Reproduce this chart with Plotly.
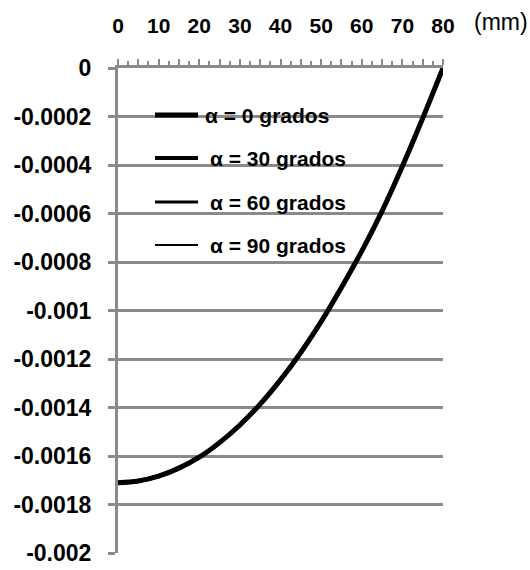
import plotly.graph_objects as go

# Position along the piece (mm) and computed deflection
pos_mm = [0, 5, 10, 15, 20, 25, 30, 35, 40, 45, 50, 55, 60, 65, 70, 75, 80]
desplazamiento = [-0.00171, -0.001703, -0.001683, -0.00165, -0.001605, -0.001545,
                  -0.001472, -0.001386, -0.001286, -0.001173, -0.001046, -0.000905,
                  -0.000755, -0.000590, -0.000405, -0.000207, 0.0]

# The four load angles give the same curve
series_names = ["α = 0 grados", "α = 30 grados", "α = 60 grados", "α = 90 grados"]

y_tickvals = [0, -0.0002, -0.0004, -0.0006, -0.0008, -0.001,
              -0.0012, -0.0014, -0.0016, -0.0018, -0.002]
y_ticktext = ["0", "-0.0002", "-0.0004", "-0.0006", "-0.0008", "-0.001",
              "-0.0012", "-0.0014", "-0.0016", "-0.0018", "-0.002"]
x_tickvals = [0, 5, 10, 15, 20, 25, 30, 35, 40, 45, 50, 55, 60, 65, 70, 75, 80]
x_ticktext = ["0", "", "10", "", "20", "", "30", "", "40", "", "50", "", "60", "", "70", "", "80"]

W, H = 530, 570
L, R, T, B = 118, 87, 68, 17
GRAY = "#8a8a8a"
FAMILY = "Liberation Sans, Arial, sans-serif"
FONT = dict(family=FAMILY, size=21, color="black", weight="bold")
line_widths = [5, 4, 3, 2]


def paper_x(px):
    return (px - L) / (W - L - R)


def paper_y(py):
    return (H - B - py) / (H - T - B)


fig = go.Figure()
for name, lw in zip(series_names, line_widths):
    fig.add_trace(go.Scatter(
        x=pos_mm, y=desplazamiento, name=name, mode="lines",
        line=dict(color="black", width=lw, shape="spline", smoothing=1),
        cliponaxis=False, showlegend=False,
    ))

# Legend drawn by hand: line samples of decreasing thickness
legend_rows = [(115, 203), (158, 208), (202, 208), (245, 208)]
shapes = []
annotations = []
for (py, tx), name, lw in zip(legend_rows, series_names, line_widths):
    shapes.append(dict(type="line", xref="paper", yref="paper",
                       x0=paper_x(155), x1=paper_x(198), y0=paper_y(py), y1=paper_y(py),
                       line=dict(color="black", width=lw)))
    annotations.append(dict(text=name, xref="paper", yref="paper",
                            x=paper_x(tx), y=paper_y(py), xanchor="left", yanchor="middle",
                            showarrow=False, font=FONT))

annotations.append(dict(text="(mm)", xref="paper", yref="paper",
                        x=paper_x(501), y=paper_y(22), xanchor="center", yanchor="middle",
                        showarrow=False, font=dict(FONT, size=23, weight="normal")))

fig.update_layout(
    width=W, height=H,
    margin=dict(l=L, r=R, t=T, b=B, pad=0),
    paper_bgcolor="white", plot_bgcolor="white",
    font=FONT,
    shapes=shapes, annotations=annotations,
    xaxis=dict(
        side="top", range=[0, 80], showgrid=False, zeroline=False, automargin=False,
        showline=True, linecolor=GRAY, linewidth=3,
        tickmode="array", tickvals=x_tickvals, ticktext=x_ticktext,
        ticks="outside", ticklen=6, tickwidth=2, tickcolor=GRAY,
        minor=dict(dtick=2.5, ticks="outside", ticklen=4, tickwidth=2, tickcolor=GRAY),
        ticklabelstandoff=18, tickfont=dict(FONT, size=21),
    ),
    yaxis=dict(
        range=[-0.002, 0], showgrid=True, gridcolor=GRAY, gridwidth=3, zeroline=False,
        automargin=False,
        showline=True, linecolor=GRAY, linewidth=3,
        tickmode="array", tickvals=y_tickvals, ticktext=y_ticktext,
        ticks="outside", ticklen=7, tickwidth=3, tickcolor=GRAY,
        ticklabelstandoff=12, tickfont=dict(FONT, size=23),
    ),
)

fig.write_html("out.html")
